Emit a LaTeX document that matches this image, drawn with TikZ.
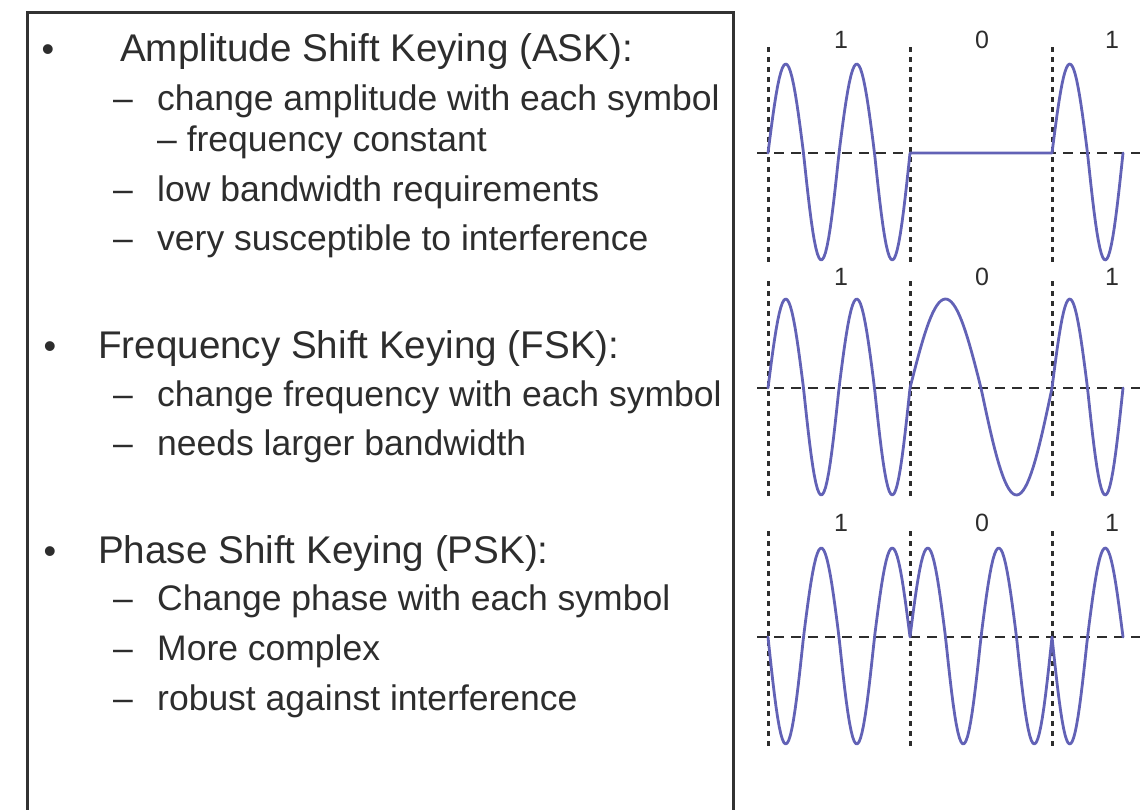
\documentclass[tikz,border=0pt]{standalone}
\usepackage{fontspec}
\setmainfont{Liberation Sans}
\definecolor{ink}{RGB}{45,45,45}
\definecolor{wavecol}{RGB}{98,98,182}
\definecolor{framecol}{RGB}{50,50,50}
\begin{document}
\begin{tikzpicture}[x=1pt,y=-1pt,
  heading/.style={anchor=base west, inner sep=0pt, text=ink, font=\fontsize{38.6}{40}\selectfont},
  entry/.style={anchor=base west, inner sep=0pt, text=ink, font=\fontsize{35.5}{38}\selectfont},
  dot/.style={anchor=base, inner sep=0pt, text=ink, font=\fontsize{36}{38}\selectfont},
  bit/.style={inner sep=0pt, text=ink, font=\fontsize{25}{27}\selectfont},
  carrier/.style={draw=wavecol, line width=2.8pt, line join=round, line cap=round},
  zeroline/.style={draw=ink, line width=2.3pt, dash pattern=on 10pt off 7pt},
  slotline/.style={draw=ink, line width=3pt, dash pattern=on 5pt off 5pt},
  declare function={wv(\s)=(\s>0)*89*\s+(\s<=0)*107*\s;}
]
\useasboundingbox (0,0) rectangle (1140,809);
\begin{scope}
\clip (0,0) rectangle (1140,809);

% text frame (open at the bottom edge)
\draw[framecol, line width=3pt] (27,815) -- (27,12) -- (733,12) -- (733,815);

% ---- bullet list ----
\node[dot] (b1) at (48,61) {•};
\node[heading] (ask) at (120,61) {Amplitude Shift Keying (ASK):};
\node[entry] (d11) at (113,110) {–};
\node[entry] (t11) at (157,110) {change amplitude with each symbol};
\node[entry] (t12) at (157,151) {– frequency constant};
\node[entry] (d13) at (113,201) {–};
\node[entry] (t13) at (157,201) {low bandwidth requirements};
\node[entry] (d14) at (113,250) {–};
\node[entry] (t14) at (157,250) {very susceptible to interference};

\node[dot] (b2) at (50,358) {•};
\node[heading] (fsk) at (98,358) {Frequency Shift Keying (FSK):};
\node[entry] (d21) at (113,406) {–};
\node[entry] (t21) at (157,406) {change frequency with each symbol};
\node[entry] (d22) at (113,455) {–};
\node[entry] (t22) at (157,455) {needs larger bandwidth};

\node[dot] (b3) at (50,563) {•};
\node[heading] (psk) at (98,563) {Phase Shift Keying (PSK):};
\node[entry] (d31) at (113,610) {–};
\node[entry] (t31) at (157,610) {Change phase with each symbol};
\node[entry] (d32) at (113,660) {–};
\node[entry] (t32) at (157,660) {More complex};
\node[entry] (d33) at (113,710) {–};
\node[entry] (t33) at (157,710) {robust against interference};

% ---- symbol slots and zero lines ----
\foreach \sx in {768,910,1052}{
  \draw[slotline] (\sx,47) -- (\sx,265);
  \draw[slotline] (\sx,281) -- (\sx,498);
  \draw[slotline] (\sx,531) -- (\sx,748);
}
\foreach \ay in {153,388,637}{
  \draw[zeroline] (757,\ay) -- (1145,\ay);
}

% ---- bit labels ----
\foreach \ly/\nm in {40/a,277/f,523/p}{
  \node[bit] (\nm1) at (841,\ly) {1};
  \node[bit] (\nm0) at (982,\ly) {0};
  \node[bit] (\nm2) at (1112,\ly) {1};
}

% ---- ASK ----
\draw[carrier]
  plot[domain=768:910, samples=90] (\x, {153 - wv(sin(((\x-768)/71)*360))})
  -- (1052,153)
  -- plot[domain=1052:1123, samples=50] (\x, {153 - wv(sin(((\x-1052)/71)*360))});

% ---- FSK ----
\draw[carrier]
  plot[domain=768:910, samples=90] (\x, {388 - wv(sin(((\x-768)/71)*360))})
  -- plot[domain=910:1052, samples=70] (\x, {388 - wv(sin(((\x-910)/142)*360))})
  -- plot[domain=1052:1123, samples=50] (\x, {388 - wv(sin(((\x-1052)/71)*360))});

% ---- PSK ----
\draw[carrier]
  plot[domain=768:910, samples=90] (\x, {637 - wv(-sin(((\x-768)/71)*360))})
  -- plot[domain=910:1052, samples=90] (\x, {637 - wv(sin(((\x-910)/71)*360))})
  -- plot[domain=1052:1123, samples=50] (\x, {637 - wv(-sin(((\x-1052)/71)*360))});
\end{scope}
\end{tikzpicture}
\end{document}
